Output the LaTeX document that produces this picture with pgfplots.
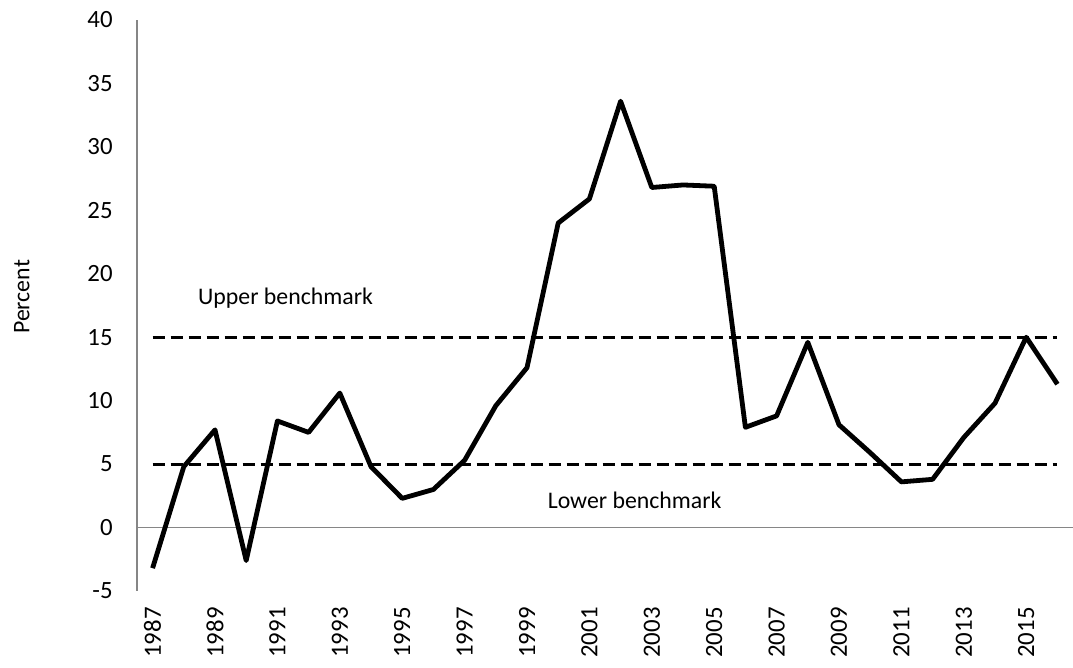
\documentclass[border=0pt]{standalone}
\usepackage{fontspec}
\setmainfont{Carlito}
\usepackage{pgfplots}
\pgfplotsset{compat=1.18}
\definecolor{axisgray}{HTML}{868686}
\begin{document}
\fontsize{11.9}{14}\selectfont
\begin{tikzpicture}
\begin{axis}[
  scale only axis, width=468pt, height=285.5pt,
  xmin=1986.5, xmax=2016.5, ymin=-5, ymax=40,
  axis x line*=bottom, axis y line*=left,
  x axis line style={draw=none},
  y axis line style={axisgray, line width=0.9pt, -},
  xtick={1987,1989,...,2015}, ytick={-5,0,...,40},
  major tick length=0pt, tick style={draw=none},
  /pgf/number format/.cd, 1000 sep={}, assume math mode=true, /pgfplots/.cd,
  tick label style={font=\fontsize{12.4}{14}\selectfont},
  xticklabel style={rotate=90, anchor=east, inner sep=0pt},
  xticklabel shift=8pt,
  yticklabel style={anchor=east, inner sep=0pt},
  yticklabel shift=12pt,
  ylabel={Percent},
  every axis y label/.style={at={(axis description cs:-0.123,0.515)}, anchor=center, rotate=90},
  clip=false,
]
\addplot[axisgray, line width=0.9pt] coordinates {(1986.5,0) (2016.5,0)};
\addplot[black, line width=1.5pt, dash pattern=on 6pt off 3pt] coordinates {(1987,15) (2016,15)};
\addplot[black, line width=1.5pt, dash pattern=on 6pt off 3pt] coordinates {(1987,5) (2016,5)};
\addplot[black, line width=2.4pt, line join=round] coordinates {
(1987,-3.2) (1988,4.8) (1989,7.7) (1990,-2.6) (1991,8.4) (1992,7.5) (1993,10.6)
(1994,4.8) (1995,2.3) (1996,3.0) (1997,5.3) (1998,9.6) (1999,12.6) (2000,24.0)
(2001,25.9) (2002,33.6) (2003,26.8) (2004,27.0) (2005,26.9) (2006,7.9) (2007,8.8)
(2008,14.6) (2009,8.1) (2010,5.9) (2011,3.6) (2012,3.8) (2013,7.1) (2014,9.8)
(2015,15.0) (2016,11.3)};
\node at (axis cs:1991.26,18.06) {Upper benchmark};
\node at (axis cs:2002.45,2.13) {Lower benchmark};
\end{axis}
\pgfresetboundingbox
\path[use as bounding box] (-68.5pt,-38.5pt) rectangle (468pt,295.5pt);
\end{tikzpicture}
\end{document}
